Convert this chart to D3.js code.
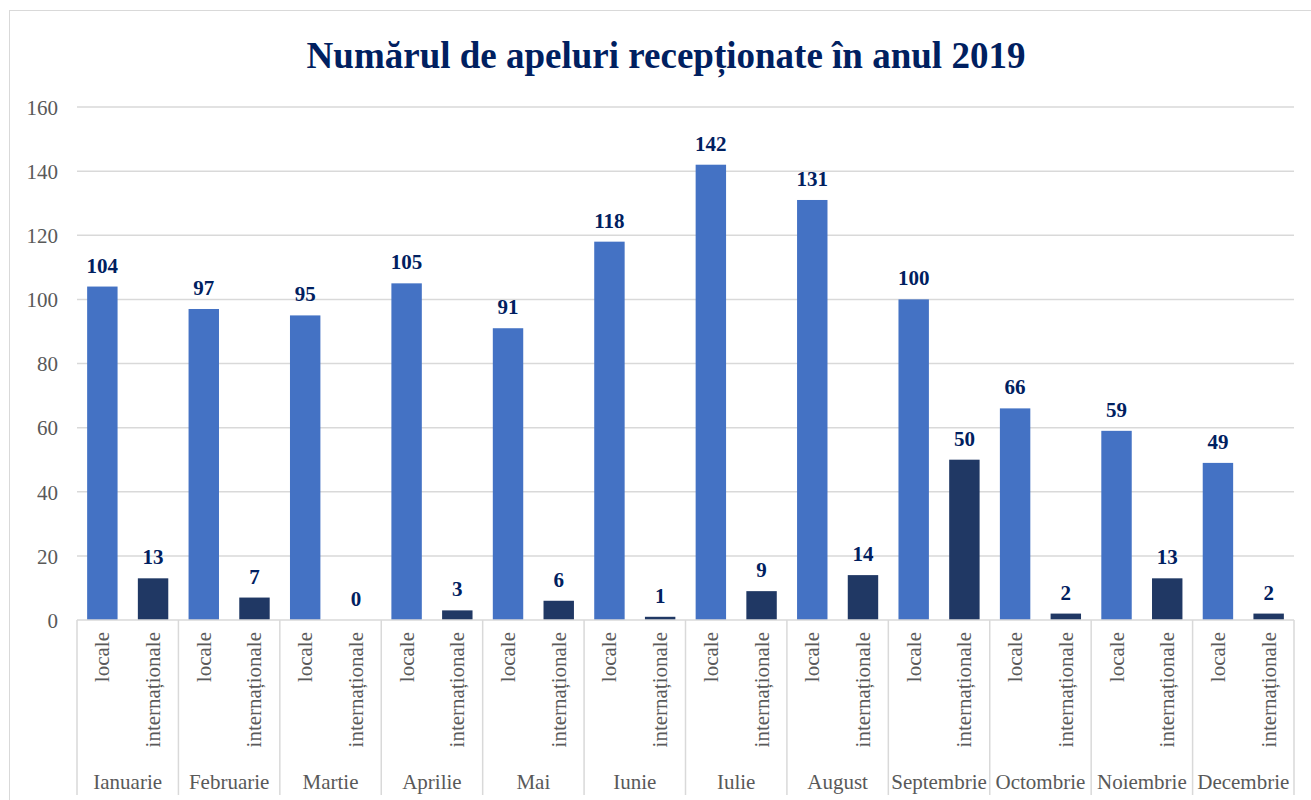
<!DOCTYPE html>
<html><head><meta charset="utf-8">
<script src="https://cdn.jsdelivr.net/npm/d3@7"></script>
<style>html,body{margin:0;padding:0;background:#fff;} svg text{font-family:"Liberation Serif","Times New Roman",serif;}</style>
</head><body>
<script>
const months = ["Ianuarie","Februarie","Martie","Aprilie","Mai","Iunie","Iulie","August","Septembrie","Octombrie","Noiembrie","Decembrie"];
const types = ["locale","internaționale"];
const locale = [104,97,95,105,91,118,142,131,100,66,59,49];
const internationale = [13,7,0,3,6,1,9,14,50,2,13,2];
const yTicks = [0,20,40,60,80,100,120,140,160];
const title = "Numărul de apeluri recepționate în anul 2019";

(function(){
const W = 1311, H = 800;
const svg = d3.select("body").append("svg").attr("width", W).attr("height", H);
svg.append("rect").attr("x",9.5).attr("y",10.5).attr("width",1320).attr("height",800)
  .attr("fill","#fff").attr("stroke","#d9d9d9").attr("stroke-width",1);

const pLeft = 77, pRight = 1294, pTop = 107, pBottom = 620;
const x0 = d3.scaleBand().domain(months).range([pLeft,pRight]).padding(0);
const x1 = d3.scaleBand().domain(types).range([0,x0.bandwidth()]).paddingInner(0.4).paddingOuter(0.2);
const y = d3.scaleLinear().domain([0,160]).range([pBottom,pTop]);

svg.append("text").attr("x",666).attr("y",68).attr("text-anchor","middle")
  .attr("font-weight","bold").attr("font-size",37)
  .attr("fill","#002060").text(title);

svg.append("g").selectAll("line").data(yTicks.filter(d=>d>0)).join("line")
  .attr("x1",pLeft).attr("x2",pRight).attr("y1",d=>y(d)).attr("y2",d=>y(d))
  .attr("stroke","#d9d9d9").attr("stroke-width",1.5);

const yAxis = d3.axisLeft(y).tickValues(yTicks).tickSize(0).tickPadding(0);
const ya = svg.append("g").attr("transform",`translate(${pLeft-19},0)`).call(yAxis);
ya.select(".domain").remove();
ya.attr("font-family",null);
ya.selectAll("text").attr("font-size",21).attr("fill","#595959").attr("dy","0.35em");

const data = months.map((m,i)=>({m, vals:[{t:"locale",v:locale[i]},{t:"internaționale",v:internationale[i]}]}));
const colors = {"locale":"#4472C4","internaționale":"#203864"};

const g = svg.append("g").selectAll("g").data(data).join("g").attr("transform",d=>`translate(${x0(d.m)},0)`);
g.selectAll("rect").data(d=>d.vals).join("rect")
  .attr("x",d=>x1(d.t)).attr("width",x1.bandwidth())
  .attr("y",d=>y(d.v)).attr("height",d=>y(0)-y(d.v)).attr("fill",d=>colors[d.t]);
g.selectAll("text.val").data(d=>d.vals).join("text").attr("class","val")
  .attr("x",d=>x1(d.t)+x1.bandwidth()/2).attr("y",d=>y(d.v)-14).attr("text-anchor","middle")
  .attr("font-weight","bold").attr("font-size",21)
  .attr("fill","#002060").text(d=>d.v);
g.selectAll("text.sub").data(d=>d.vals).join("text").attr("class","sub")
  .attr("transform",d=>`translate(${x1(d.t)+x1.bandwidth()/2+7},632) rotate(-90)`)
  .attr("text-anchor","end").attr("font-size",21)
  .attr("fill","#595959").text(d=>d.t);
g.append("text").attr("x",x0.bandwidth()/2).attr("y",789).attr("text-anchor","middle")
  .attr("font-size",21).attr("fill","#595959").text(d=>d.m);

svg.append("line").attr("x1",pLeft).attr("x2",pRight).attr("y1",pBottom).attr("y2",pBottom)
  .attr("stroke","#d9d9d9").attr("stroke-width",1.5);
const seps = months.map(m=>x0(m)).concat([pRight]);
svg.append("g").selectAll("line").data(seps).join("line")
  .attr("x1",d=>d).attr("x2",d=>d).attr("y1",pBottom).attr("y2",795)
  .attr("stroke","#d9d9d9").attr("stroke-width",1.5);
})();
</script>
</body></html>
